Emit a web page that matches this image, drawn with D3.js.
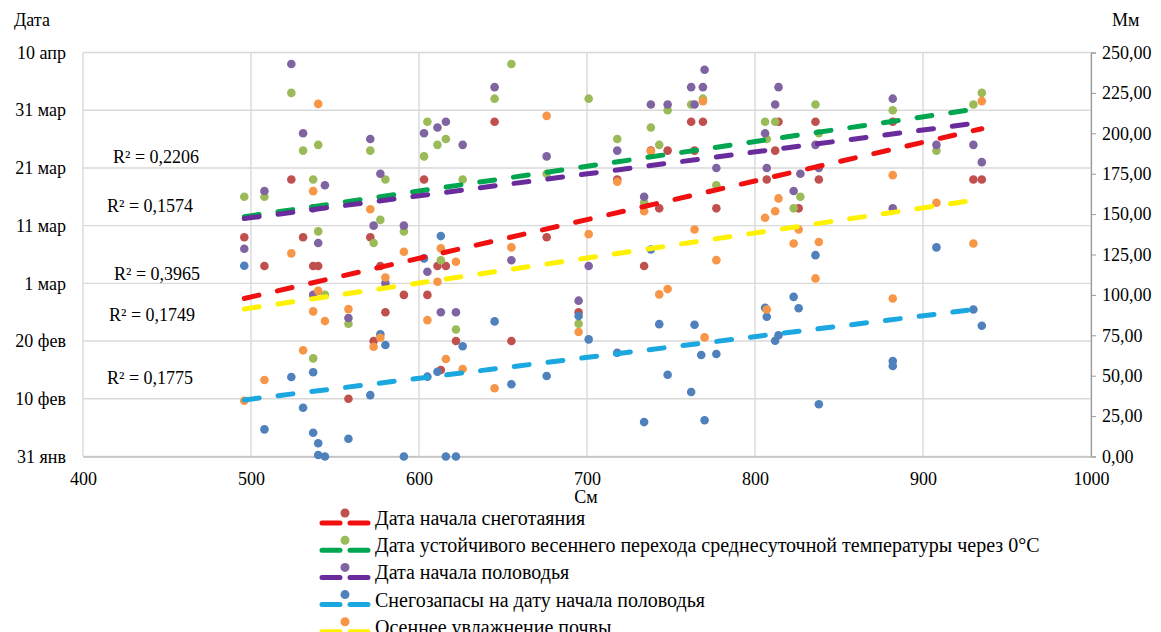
<!DOCTYPE html>
<meta charset="utf-8">
<style>
    body { margin: 0; background: #fff; }
</style>

<svg width="1161" height="632" font-family="Liberation Serif, Times New Roman, serif"></svg>

<script src="https://d3js.org/d3.v7.min.js"></script>
<script>
    // x - см, даты - "ДД.ММ", запасы и увлажнение - мм
    var snowmelt = [[496,"09.03"],[508,"04.03"],[524,"19.03"],[531,"09.03"],[537,"04.03"],[540,"04.03"],[558,"10.02"],
        [571,"09.03"],[573,"20.02"],[577,"04.03"],[580,"25.02"],[591,"28.02"],[603,"19.03"],[605,"28.02"],[611,"04.03"],
        [613,"15.02"],[616,"04.03"],[622,"20.02"],[645,"29.03"],[655,"20.02"],[676,"09.03"],[695,"25.02"],[718,"19.03"],
        [734,"04.03"],[738,"24.03"],[743,"14.03"],[748,"24.03"],[762,"29.03"],[764,"24.03"],[769,"29.03"],[777,"14.03"],
        [807,"19.03"],[812,"24.03"],[814,"29.03"],[826,"14.03"],[836,"29.03"],[838,"19.03"],[882,"29.03"],[930,"19.03"],
        [935,"19.03"]];
    var transition0 = [[496,"16.03"],[508,"16.03"],[524,"03.04"],[531,"24.03"],[537,"19.03"],[537,"17.02"],[540,"25.03"],
        [540,"10.03"],[544,"28.02"],[558,"23.02"],[571,"24.03"],[573,"08.03"],[577,"12.03"],[580,"19.03"],[591,"10.03"],
        [603,"23.03"],[605,"29.03"],[611,"25.03"],[613,"05.03"],[616,"26.03"],[622,"22.02"],[626,"19.03"],[645,"02.04"],
        [655,"08.04"],[676,"20.03"],[695,"23.02"],[701,"02.04"],[718,"26.03"],[734,"15.03"],[738,"28.03"],[743,"25.03"],
        [748,"31.03"],[762,"01.04"],[769,"02.04"],[777,"18.03"],[806,"29.03"],[807,"26.03"],[812,"29.03"],[823,"14.03"],
        [827,"16.03"],[836,"01.04"],[838,"27.03"],[882,"31.03"],[908,"24.03"],[930,"01.04"],[935,"03.04"]];
    var flood = [[496,"07.03"],[508,"17.03"],[524,"08.04"],[531,"27.03"],[537,"14.03"],[537,"28.02"],[540,"08.03"],
        [544,"18.03"],[558,"24.02"],[571,"26.03"],[573,"11.03"],[577,"20.03"],[580,"01.03"],[591,"11.03"],[603,"27.03"],
        [605,"03.03"],[611,"28.03"],[613,"25.02"],[616,"29.03"],[622,"25.02"],[626,"25.03"],[645,"04.04"],[655,"05.03"],
        [676,"23.03"],[695,"27.02"],[701,"04.03"],[718,"24.03"],[734,"16.03"],[738,"01.04"],[748,"01.04"],[762,"04.04"],
        [764,"01.04"],[769,"04.04"],[770,"07.04"],[777,"21.03"],[806,"27.03"],[807,"21.03"],[812,"01.04"],[814,"04.04"],
        [823,"17.03"],[827,"20.03"],[836,"25.03"],[838,"21.03"],[882,"02.04"],[882,"14.03"],[908,"25.03"],[930,"25.03"],
        [935,"22.03"]];
    var snowStore = [[496,118],[508,16.8],[524,49.2],[531,30.2],[537,14.7],[537,52.1],[540,8.2],[540,0.9],[544,0],
        [558,11],[571,38],[577,75.6],[580,69],[591,0],[603,122.6],[605,49.4],[611,52.4],[613,136.4],[616,0],[622,0],
        [626,68.2],[645,83.6],[655,44.7],[676,49.8],[695,86.9],[701,72.5],[718,64.2],[734,21.3],[738,128.1],[743,81.9],
        [748,50.6],[762,39.9],[764,81.5],[768,62.8],[770,22.4],[777,63.4],[806,92],[807,86.5],[812,71.6],[814,75],
        [823,98.8],[826,91.7],[836,124.6],[838,32.3],[882,59.1],[882,56],[908,129.4],[930,91],[935,80.9]];
    var soilMoisture = [[496,34.5],[508,47.3],[524,125.7],[531,65.7],[537,164.2],[537,89.8],[540,218.2],[540,102.5],
        [544,83.8],[558,91.2],[571,153],[573,67.9],[577,73.5],[580,110.8],[591,126.7],[605,84.4],[611,108.1],[613,128.8],
        [616,60.3],[622,120.5],[626,54.1],[645,42.2],[655,129.4],[676,210.8],[695,77],[701,137.6],[718,170],[734,151.8],
        [738,188.9],[743,100.3],[748,103.6],[764,140.5],[769,219.9],[770,73.7],[777,121.5],[806,147.7],[807,91],
        [812,151.8],[814,159.7],[823,131.8],[826,140.5],[836,110.2],[838,132.7],[882,174.1],[882,97.8],[908,157],
        [930,131.8],[935,219.9]];

    var seriesNames = ["Дата начала снеготаяния",
        "Дата устойчивого весеннего перехода среднесуточной температуры через 0°С",
        "Дата начала половодья",
        "Снегозапасы на дату начала половодья",
        "Осеннее увлажнение почвы"];
    var dateTickLabels = ["31 янв", "10 фев", "20 фев", "1 мар", "11 мар", "21 мар", "31 мар", "10 апр"];
    var mmTicks = [0, 25, 50, 75, 100, 125, 150, 175, 200, 225, 250];
    var cmTicks = [400, 500, 600, 700, 800, 900, 1000];
    var r2Labels = ["R² = 0,2206", "R² = 0,1574", "R² = 0,3965", "R² = 0,1749", "R² = 0,1775"];

    var svg = d3.select("svg"),
        SERIF = "Liberation Serif, Times New Roman, serif",
        LEFT = 83, RIGHT = 1091, TOP = 52.5, BOTTOM = 456.5,
        FONT = 18,
        GRID = "#d9d9d9",
        start = new Date(2020, 0, 31),
        parseDate = function (s) {
            var p = s.split(".");
            return new Date(2020, +p[1] - 1, +p[0]);
        },
        x = d3.scaleLinear().domain([400, 1000]).range([LEFT, RIGHT]),
        yDate = d3.scaleTime().domain([start, new Date(2020, 3, 10)]).range([BOTTOM, TOP]),
        yMm = d3.scaleLinear().domain([0, 250]).range([BOTTOM, TOP]),
        dateTicks = dateTickLabels.map(function (d, i) {
            return d3.timeDay.offset(start, 10 * i);
        });

    var series = [
        {data: snowmelt, date: true, dot: "#C0504D", trend: "#F01010"},
        {data: transition0, date: true, dot: "#9BBB59", trend: "#00A550"},
        {data: flood, date: true, dot: "#8064A2", trend: "#6A2C9C"},
        {data: snowStore, date: false, dot: "#4F81BD", trend: "#1BA7DF"},
        {data: soilMoisture, date: false, dot: "#F79646", trend: "#FFF200"}
    ];
    series.forEach(function (s) {
        s.points = s.data.map(function (d) {
            return {x: d[0], y: s.date ? parseDate(d[1]).getTime() : d[1]};
        });
        s.yScale = s.date ? yDate : yMm;
    });

    // сетка
    svg.append("g").selectAll("line")
        .data(dateTicks)
        .enter().append("line")
        .attr("x1", LEFT).attr("x2", RIGHT)
        .attr("y1", function (d) { return yDate(d); })
        .attr("y2", function (d) { return yDate(d); })
        .attr("stroke", GRID).attr("stroke-width", 1.4);
    svg.append("g").selectAll("line")
        .data(cmTicks)
        .enter().append("line")
        .attr("x1", function (d) { return x(d); })
        .attr("x2", function (d) { return x(d); })
        .attr("y1", TOP).attr("y2", BOTTOM)
        .attr("stroke", GRID).attr("stroke-width", 1.4);

    // оси
    var axisLeft = svg.append("g")
        .attr("transform", "translate(" + LEFT + ",0)")
        .call(d3.axisLeft(yDate).tickValues(dateTicks).tickSize(0).tickPadding(17)
            .tickFormat(function (d, i) { return dateTickLabels[i]; }));
    var axisRight = svg.append("g")
        .attr("transform", "translate(" + RIGHT + ",0)")
        .call(d3.axisRight(yMm).tickValues(mmTicks).tickSize(5).tickPadding(6)
            .tickFormat(function (d) { return d3.format(".2f")(d).replace(".", ","); }));
    var axisBottom = svg.append("g")
        .attr("transform", "translate(0," + BOTTOM + ")")
        .call(d3.axisBottom(x).tickValues(cmTicks).tickSize(0).tickPadding(16)
            .tickFormat(d3.format("d")));

    [axisLeft, axisRight, axisBottom].forEach(function (a) {
        a.attr("font-family", SERIF).attr("font-size", FONT);
        a.selectAll("text").attr("fill", "#000");
    });
    axisLeft.select(".domain").remove();
    axisBottom.select(".domain").attr("stroke", "#bfbfbf").attr("stroke-width", 1.4);
    axisRight.select(".domain").attr("stroke", "#9a9a9a").attr("stroke-width", 1.2);
    axisRight.selectAll(".tick line").attr("stroke", "#9a9a9a");

    // подписи осей
    svg.append("text").attr("x", 14).attr("y", 26).attr("font-size", FONT).text("Дата");
    svg.append("text").attr("x", 1112).attr("y", 26).attr("font-size", FONT).text("Мм");
    svg.append("text").attr("x", 586).attr("y", 503).attr("text-anchor", "middle")
        .attr("font-size", FONT).text("См");

    // точки
    series.forEach(function (s) {
        svg.append("g").selectAll("circle")
            .data(s.points)
            .enter().append("circle")
            .attr("cx", function (d) { return x(d.x); })
            .attr("cy", function (d) { return s.yScale(d.y); })
            .attr("r", 4.3)
            .attr("fill", s.dot);
    });

    // линейные тренды
    function regression(pts) {
        var mx = d3.mean(pts, function (d) { return d.x; }),
            my = d3.mean(pts, function (d) { return d.y; }),
            sxy = d3.sum(pts, function (d) { return (d.x - mx) * (d.y - my); }),
            sxx = d3.sum(pts, function (d) { return (d.x - mx) * (d.x - mx); }),
            b = sxy / sxx;
        return function (v) { return my + b * (v - mx); };
    }
    series.forEach(function (s) {
        var f = regression(s.points),
            ext = d3.extent(s.points, function (d) { return d.x; });
        svg.append("line")
            .attr("x1", x(ext[0])).attr("y1", s.yScale(f(ext[0])))
            .attr("x2", x(ext[1])).attr("y2", s.yScale(f(ext[1])))
            .attr("stroke", s.trend)
            .attr("stroke-width", 5)
            .attr("stroke-linecap", "round")
            .attr("stroke-dasharray", "15,19");
    });

    // R²
    var r2Pos = [[113, 157], [107, 206], [114, 274], [109, 315], [107, 378]];
    svg.append("g").selectAll("text")
        .data(r2Labels)
        .enter().append("text")
        .attr("x", function (d, i) { return r2Pos[i][0]; })
        .attr("y", function (d, i) { return r2Pos[i][1]; })
        .attr("dy", "0.35em")
        .attr("font-size", FONT)
        .text(function (d) { return d; });

    // легенда
    var legend = svg.append("g").selectAll("g")
        .data(series)
        .enter().append("g")
        .attr("transform", function (d, i) { return "translate(0," + (518 + i * 27.2) + ")"; });
    legend.append("line")
        .attr("x1", 322).attr("x2", 368)
        .attr("y1", 5).attr("y2", 5)
        .attr("stroke", function (d) { return d.trend; })
        .attr("stroke-width", 5)
        .attr("stroke-linecap", "round")
        .attr("stroke-dasharray", "18,10");
    legend.append("circle")
        .attr("cx", 345).attr("cy", -5).attr("r", 4.5)
        .attr("fill", function (d) { return d.dot; });
    legend.append("text")
        .attr("x", 375).attr("y", 0).attr("dy", "0.35em")
        .attr("font-size", 20)
        .text(function (d, i) { return seriesNames[i]; });
</script>
